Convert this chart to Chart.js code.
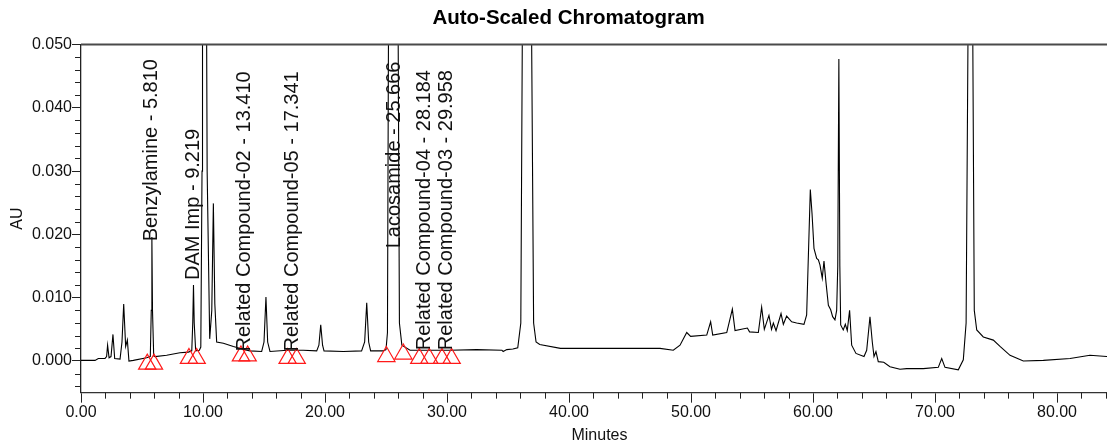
<!DOCTYPE html>
<html lang="en">
<head>
  <meta charset="UTF-8">
  <title>Auto-Scaled Chromatogram</title>
  <script src="https://cdn.jsdelivr.net/npm/chart.js"></script>
  <style>
    html, body { margin: 0; padding: 0; background: #fff; overflow: hidden; }
    canvas { display: block; }
  </style>
</head>
<body>
  <!-- the source picture is cropped on the right, so the canvas is a bit wider than the window -->
  <canvas id="chromChart" width="1137" height="441"></canvas>

  <script>
    // detector trace (minutes / AU)
    const traceMinutes = [
      0.00, 1.15, 1.42, 1.97, 2.10, 2.18, 2.30, 2.46, 2.62, 2.76, 3.20, 3.36, 3.50, 3.66, 3.80, 3.93, 4.29,
      5.38, 5.68, 5.76, 5.81, 5.86, 5.96, 6.07, 7.02, 8.11, 8.80, 9.08, 9.16, 9.22, 9.28, 9.40, 9.70,
      9.82, 9.92, 9.96, 10.12, 10.28, 10.34, 10.55, 10.72, 10.85, 10.97, 11.12, 11.67, 12.49, 13.58,
      13.85, 14.81, 15.00, 15.16, 15.30, 15.49, 16.92, 18.22, 19.32, 19.50, 19.65, 19.80, 19.92,
      21.50, 23.00, 23.25, 23.42, 23.58, 23.74, 24.78, 25.00, 25.12, 25.20, 25.60, 26.00, 26.10, 26.30,
      26.97, 30.25, 32.43, 34.50, 34.60, 34.90, 35.40, 35.80, 36.05, 36.17, 36.55, 36.94, 37.10, 37.30,
      37.60, 39.30, 42.00, 45.00, 47.46, 48.55, 49.10, 49.65, 49.97, 51.29, 51.61, 51.78, 52.93, 53.39,
      53.61, 54.62, 54.80, 55.52, 55.79, 56.01, 56.39, 56.60, 56.75, 56.97, 57.38, 57.57, 57.84, 58.25,
      58.66, 59.26, 59.48, 59.78, 59.92, 60.08, 60.30, 60.44, 60.57, 60.76, 60.90, 61.07, 61.26, 61.45,
      61.61, 61.80, 61.94, 62.03, 62.12, 62.20, 62.27, 62.48, 62.65, 62.81, 63.00, 63.17, 63.52, 64.18,
      64.40, 64.67, 64.86, 65.00, 65.16, 65.35, 65.80, 66.31, 67.13, 67.68, 69.04, 70.27, 70.55, 70.82,
      71.91, 72.32, 72.55, 72.70, 72.90, 73.10, 73.22, 73.42, 73.96, 74.78, 75.33, 76.15, 77.24, 78.88,
      81.07, 82.70, 84.07, 85.00
    ];
    const traceAU = [
      0.0001, 0.0001, 0.0004, 0.0004, 0.0007, 0.0025, 0.0005, 0.0007, 0.0042, 0.0004, 0.0003, 0.0030, 0.0090, 0.0023, 0.0033, 0.0000, 0.0001,
      0.0005, 0.0007, 0.0080, 0.0196, 0.0080, 0.0008, 0.0007, 0.0009, 0.0013, 0.0014, 0.0016, 0.0060, 0.0120, 0.0060, 0.0016, 0.0017,
      0.0022, 0.0300, 0.0600, 0.1100, 0.0600, 0.0300, 0.0035, 0.0080, 0.0249, 0.0090, 0.0030, 0.0028, 0.0023, 0.0017,
      0.0016, 0.0015, 0.0030, 0.0101, 0.0030, 0.0015, 0.0017, 0.0017, 0.0016, 0.0025, 0.0057, 0.0025, 0.0016,
      0.0015, 0.0016, 0.0030, 0.0092, 0.0030, 0.0016, 0.0016, 0.0018, 0.0045, 0.0500, 0.1400, 0.0500, 0.0060, 0.0025,
      0.0017, 0.0017, 0.0018, 0.0017, 0.0015, 0.0018, 0.0019, 0.0021, 0.0060, 0.0500, 0.1500, 0.0500, 0.0060, 0.0030,
      0.0026, 0.0020, 0.0020, 0.0020, 0.0020, 0.0017, 0.0025, 0.0045, 0.0039, 0.0041, 0.0062, 0.0041, 0.0045, 0.0082,
      0.0048, 0.0052, 0.0046, 0.0045, 0.0085, 0.0050, 0.0072, 0.0050, 0.0060, 0.0048, 0.0075, 0.0058, 0.0071, 0.0062,
      0.0060, 0.0058, 0.0073, 0.0271, 0.0233, 0.0178, 0.0162, 0.0160, 0.0152, 0.0131, 0.0158, 0.0123, 0.0088, 0.0081,
      0.0070, 0.0065, 0.0080, 0.0150, 0.0477, 0.0150, 0.0057, 0.0049, 0.0058, 0.0048, 0.0080, 0.0025, 0.0012, 0.0007,
      0.0017, 0.0070, 0.0030, 0.0007, 0.0015, -0.0001, -0.0002, -0.0009, -0.0013, -0.0012, -0.0012, -0.0010, 0.0004, -0.0010,
      -0.0014, 0.0002, 0.0060, 0.0500, 0.1400, 0.0500, 0.0080, 0.0049, 0.0038, 0.0033, 0.0023, 0.0009, 0.0000, 0.0001,
      0.0004, 0.0009, 0.0007, 0.0007
    ];

    // integration marks (peak start / end triangles)
    const markMinutes = [5.43, 5.98, 8.85, 9.48, 13.11, 13.66, 16.94, 17.68, 25.03, 26.42, 27.73, 28.55, 29.59, 30.38];
    const markAU = [-0.0005, -0.0005, 0.0004, 0.0004, 0.0008, 0.0008, 0.0004, 0.0004, 0.0007, 0.0011, 0.0004, 0.0004, 0.0004, 0.0004];

    // named peaks; labelAU is where the rotated text starts
    const peakNames = ['Benzylamine', 'DAM Imp', 'Related Compound-02', 'Related Compound-05',
                       'Lacosamide', 'Related Compound-04', 'Related Compound-03'];
    const peakMinutes = [5.810, 9.219, 13.410, 17.341, 25.666, 28.184, 29.958];
    const labelAU = [0.0189, 0.0128, 0.0015, 0.0015, 0.0178, 0.0017, 0.0017];

    const xTickValues = [0, 10, 20, 30, 40, 50, 60, 70, 80];
    const xTickLabels = ['0.00', '10.00', '20.00', '30.00', '40.00', '50.00', '60.00', '70.00', '80.00'];
    const yTickValues = [0, 0.01, 0.02, 0.03, 0.04, 0.05];
    const yTickLabels = ['0.000', '0.010', '0.020', '0.030', '0.040', '0.050'];

    const FONT = '"Liberation Sans", Arial, sans-serif';
    Chart.defaults.font.family = FONT;
    Chart.defaults.color = '#111';

    // peak names, top frame line and the small in-between ticks
    const chromDecor = {
      id: 'chromDecor',
      afterDatasetsDraw(chart) {
        const { ctx, scales: { x, y } } = chart;
        ctx.save();
        ctx.fillStyle = '#111';
        ctx.font = '20px ' + FONT;
        ctx.textAlign = 'left';
        ctx.textBaseline = 'middle';
        peakNames.forEach((name, i) => {
          ctx.save();
          ctx.translate(x.getPixelForValue(peakMinutes[i]), y.getPixelForValue(labelAU[i]));
          ctx.rotate(-Math.PI / 2);
          ctx.fillText(name + ' - ' + peakMinutes[i].toFixed(3), 0, 0);
          ctx.restore();
        });
        ctx.restore();
      },
      afterDraw(chart) {
        const { ctx, chartArea: a, scales: { x, y } } = chart;
        ctx.save();
        ctx.strokeStyle = '#4a4a4a';
        ctx.lineWidth = 2;
        ctx.beginPath();
        ctx.moveTo(a.left, a.top);
        ctx.lineTo(a.right, a.top);
        ctx.stroke();

        ctx.strokeStyle = '#222';
        ctx.lineWidth = 1;
        ctx.beginPath();
        for (let k = -2; k < 25; k++) {
          if (k % 5 === 0) continue;
          const py = Math.round(y.getPixelForValue(k * 0.002)) + 0.5;
          ctx.moveTo(a.left - 6, py);
          ctx.lineTo(a.left, py);
        }
        for (let k = 1; k <= 42; k++) {
          if (k % 5 === 0) continue;
          const px = Math.round(x.getPixelForValue(k * 2)) + 0.5;
          ctx.moveTo(px, a.bottom);
          ctx.lineTo(px, a.bottom + 6);
        }
        ctx.stroke();
        ctx.restore();
      }
    };

    const ctx = document.getElementById('chromChart').getContext('2d');
    new Chart(ctx, {
      type: 'scatter',
      data: {
        datasets: [
          {
            label: 'Integration marks',
            data: markMinutes.map((t, i) => ({ x: t, y: markAU[i] })),
            pointStyle: 'triangle',
            pointRadius: 10,
            pointBorderWidth: 1.2,
            pointBorderColor: '#ff1a1a',
            pointBackgroundColor: 'rgba(0,0,0,0)',
            showLine: false
          },
          {
            label: 'AU',
            data: traceMinutes.map((t, i) => ({ x: t, y: traceAU[i] })),
            showLine: true,
            borderColor: '#000',
            borderWidth: 1.1,
            pointRadius: 0,
            tension: 0
          }
        ]
      },
      options: {
        responsive: false,
        devicePixelRatio: 1,
        animation: false,
        events: [],
        plugins: {
          legend: { display: false },
          tooltip: { enabled: false },
          title: {
            display: true,
            text: 'Auto-Scaled Chromatogram',
            color: '#000',
            font: { size: 20.5, weight: 'bold' },
            padding: { top: 6, bottom: 13.9 }
          }
        },
        scales: {
          x: {
            type: 'linear',
            min: 0,
            max: 85.0,
            afterBuildTicks: s => { s.ticks = xTickValues.map(v => ({ value: v })); },
            afterFit: s => { s.height = 48.35; },
            ticks: {
              callback: (v, i) => xTickLabels[i],
              autoSkip: false,
              maxRotation: 0,
              padding: 0,
              font: { size: 16 }
            },
            grid: { drawOnChartArea: false, tickLength: 10, tickColor: '#222' },
            border: { color: '#333', width: 1.3 },
            title: {
              display: true,
              text: 'Minutes',
              font: { size: 16, lineHeight: 1 },
              padding: { top: 0, bottom: -3 }
            }
          },
          y: {
            type: 'linear',
            min: -0.005,
            max: 0.05,
            afterBuildTicks: s => { s.ticks = yTickValues.map(v => ({ value: v })); },
            afterFit: s => { s.width = 81; },
            ticks: {
              callback: (v, i) => yTickLabels[i],
              padding: 0,
              font: { size: 16 }
            },
            grid: { drawOnChartArea: false, tickLength: 9, tickColor: '#222' },
            border: { color: '#222', width: 1.3 },
            title: {
              display: true,
              text: 'AU',
              font: { size: 16, lineHeight: 1 },
              padding: { top: 9.5, bottom: 0 }
            }
          },
          // empty strip on the right (beyond the cropped edge of the source)
          yRight: {
            type: 'linear',
            position: 'right',
            min: -0.005,
            max: 0.05,
            afterFit: s => { s.width = 19; },
            ticks: { display: false },
            grid: { display: false },
            border: { display: false }
          }
        }
      },
      plugins: [chromDecor]
    });
  </script>
</body>
</html>
